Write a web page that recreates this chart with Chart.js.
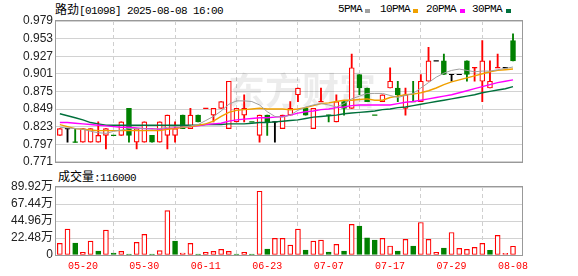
<!DOCTYPE html>
<html>
<head>
<meta charset="utf-8">
<script src="https://cdn.jsdelivr.net/npm/chart.js@4.4.1/dist/chart.umd.min.js"></script>
<style>
body { margin: 0; background: #fff; }
#wrap { position: relative; width: 578px; height: 276px; overflow: hidden; }
canvas { position: absolute; left: 0; }
.t { position: absolute; white-space: nowrap; line-height: 12px; color: #000;
     font-family: "Liberation Mono", "DejaVu Sans Mono", monospace; font-size: 11px; letter-spacing: -0.6px; }
.cjk { font-family: "Noto Sans CJK SC", sans-serif; font-size: 12px; letter-spacing: 0; }
.sq { position: absolute; width: 5px; height: 4px; top: 9px; }
</style>
</head>
<body>
<div id="wrap">
  <div class="t" style="left:55px;top:3px"><span class="cjk">路劲</span>[01098] 2025-08-08 16:00</div>
  <div class="t" style="left:338px;top:3px">5PMA</div><div class="sq" style="left:365px;background:#a0a0a0"></div>
  <div class="t" style="left:380px;top:3px">10PMA</div><div class="sq" style="left:413px;background:#f0a000"></div>
  <div class="t" style="left:426px;top:3px">20PMA</div><div class="sq" style="left:460px;background:#ff00ff"></div>
  <div class="t" style="left:472px;top:3px">30PMA</div><div class="sq" style="left:506px;background:#00703c"></div>
  <div class="t" style="left:58px;top:170px"><span class="cjk">成交量</span>:116000</div>
  <canvas id="price" width="578" height="172" style="top:0"></canvas>
  <canvas id="vol" width="578" height="104" style="top:172px"></canvas>
</div>
<script>
// 路劲 01098 日K, 2025-05-15 .. 2025-08-08
const dates = ['05-15','05-16','05-19','05-20','05-21','05-22','05-23','05-26','05-27','05-28',
  '05-29','05-30','06-02','06-03','06-04','06-05','06-06','06-09','06-10','06-11',
  '06-12','06-13','06-16','06-17','06-18','06-19','06-20','06-23','06-24','06-25',
  '06-26','06-27','06-30','07-02','07-03','07-07','07-08','07-09','07-10','07-11',
  '07-14','07-15','07-16','07-17','07-18','07-21','07-22','07-23','07-24','07-25',
  '07-28','07-29','07-30','07-31','08-01','08-04','08-05','08-06','08-07','08-08'];
const xTickDates = ['05-20','05-30','06-11','06-23','07-07','07-17','07-29','08-08'];

const opens  = [0.81,0.82,0.80,0.80,0.80,0.80,0.81,0.81,0.81,0.85,
  0.80,0.80,0.81,0.80,0.81,0.81,0.84,0.82,0.84,0.85,
  0.84,0.85,0.82,0.83,0.84,0.83,0.81,0.84,0.83,0.82,
  0.84,0.87,0.85,0.82,0.86,0.84,0.83,0.86,0.85,0.90,
  0.88,0.84,0.86,0.88,0.88,0.85,0.86,0.86,0.89,0.92,
  0.92,0.90,0.90,0.92,0.91,0.89,0.88,0.91,0.91,0.95];
const highs  = [0.82,0.82,0.82,0.82,0.82,0.83,0.82,0.81,0.83,0.85,
  0.82,0.83,0.81,0.83,0.84,0.83,0.84,0.85,0.84,0.85,
  0.85,0.86,0.89,0.85,0.87,0.83,0.84,0.84,0.83,0.84,
  0.86,0.88,0.85,0.85,0.88,0.84,0.87,0.86,0.93,0.90,
  0.88,0.84,0.87,0.91,0.89,0.88,0.89,0.90,0.94,0.92,
  0.93,0.90,0.90,0.92,0.91,0.95,0.92,0.93,0.91,0.96];
const lows   = [0.81,0.80,0.80,0.80,0.80,0.80,0.79,0.81,0.81,0.80,
  0.79,0.80,0.80,0.80,0.79,0.80,0.82,0.82,0.83,0.85,
  0.83,0.85,0.82,0.83,0.83,0.83,0.80,0.81,0.80,0.82,
  0.84,0.86,0.84,0.82,0.86,0.83,0.83,0.84,0.85,0.87,
  0.86,0.84,0.86,0.88,0.86,0.84,0.86,0.86,0.89,0.92,
  0.90,0.89,0.90,0.89,0.89,0.86,0.88,0.91,0.91,0.92];
const closes = [0.82,0.82,0.80,0.82,0.82,0.81,0.82,0.81,0.83,0.81,
  0.82,0.83,0.80,0.83,0.84,0.82,0.82,0.84,0.83,0.85,
  0.85,0.86,0.89,0.85,0.85,0.83,0.84,0.83,0.83,0.84,
  0.85,0.88,0.84,0.85,0.86,0.84,0.86,0.85,0.91,0.88,
  0.86,0.84,0.87,0.89,0.87,0.87,0.86,0.89,0.92,0.92,
  0.90,0.90,0.90,0.90,0.91,0.92,0.89,0.91,0.91,0.92];

// 成交量, 万股
const volumes = [15.4,34.2,15.8,3.5,18.4,5.3,32.9,2.6,4.8,1.3,
  16.7,27.2,1.3,5.7,58.8,18.4,2.6,15.4,1.3,3.5,
  4.8,7.5,4.8,1.3,3.5,1.3,84.3,7.9,21.9,21.9,
  13.2,34.2,6.6,18.4,19.8,4.0,14.0,5.3,40.4,38.2,
  22.8,19.8,21.9,11.9,5.3,20.6,11.9,43.0,20.6,3.5,
  9.2,29.8,8.8,7.5,10.1,15.4,6.1,25.9,2.2,11.6];

const ma5  = [0.822,0.821,0.820,0.819,0.816,0.814,0.813,0.816,0.818,0.820,
  0.820,0.820,0.819,0.820,0.822,0.823,0.822,0.824,0.826,0.832,
  0.838,0.846,0.856,0.861,0.861,0.860,0.855,0.845,0.838,0.837,
  0.840,0.847,0.852,0.855,0.857,0.855,0.852,0.857,0.864,0.868,
  0.872,0.872,0.872,0.869,0.866,0.869,0.872,0.880,0.888,0.896,
  0.902,0.906,0.908,0.906,0.904,0.905,0.905,0.907,0.909,0.911];
const ma10 = [0.826,0.823,0.820,0.819,0.818,0.817,0.817,0.817,0.817,0.817,
  0.817,0.817,0.817,0.817,0.819,0.820,0.822,0.823,0.825,0.827,
  0.831,0.838,0.844,0.847,0.848,0.849,0.850,0.849,0.849,0.849,
  0.848,0.849,0.851,0.854,0.857,0.858,0.860,0.862,0.862,0.863,
  0.864,0.862,0.862,0.866,0.868,0.870,0.871,0.873,0.876,0.880,
  0.885,0.889,0.892,0.895,0.898,0.901,0.904,0.906,0.907,0.908];
const ma20 = [0.829,0.829,0.828,0.827,0.826,0.825,0.824,0.823,0.822,0.822,
  0.821,0.820,0.820,0.819,0.820,0.821,0.822,0.823,0.824,0.826,
  0.827,0.828,0.831,0.833,0.834,0.835,0.836,0.836,0.837,0.838,
  0.840,0.843,0.845,0.846,0.848,0.849,0.851,0.852,0.854,0.855,
  0.855,0.855,0.855,0.855,0.857,0.859,0.860,0.862,0.864,0.866,
  0.868,0.870,0.873,0.876,0.879,0.882,0.885,0.888,0.890,0.892];
const ma30 = [0.842,0.839,0.836,0.833,0.829,0.827,0.825,0.825,0.825,0.825,
  0.825,0.825,0.825,0.825,0.825,0.825,0.825,0.825,0.825,0.826,
  0.826,0.826,0.827,0.827,0.827,0.828,0.829,0.829,0.830,0.831,
  0.832,0.833,0.835,0.837,0.838,0.839,0.840,0.842,0.843,0.844,
  0.845,0.846,0.848,0.849,0.851,0.852,0.854,0.856,0.858,0.860,
  0.862,0.864,0.866,0.868,0.870,0.873,0.875,0.877,0.879,0.882];

const priceTicks = [0.771,0.797,0.823,0.849,0.875,0.901,0.927,0.953,0.979];
const volTicks = [0,22.48,44.96,67.44,89.92];

const RED = '#ff0000', GREEN = '#008000', BLACK = '#000000';
const tickIdx = xTickDates.map(d => dates.indexOf(d));

// 红/绿/平: 先看收开, 收=开时看昨收
function trend(i) {
    if (closes[i] > opens[i]) return 1;
    if (closes[i] < opens[i]) return -1;
    const prev = i > 0 ? closes[i - 1] : closes[i];
    return closes[i] > prev ? 1 : (closes[i] < prev ? -1 : 0);
}
function colorOf(t) { return t > 0 ? RED : (t < 0 ? GREEN : BLACK); }

const bodies = [], bodyFill = [], bodyLine = [];
const wicks = [], wickColor = [];
const dashes = [], dashColor = [];
closes.forEach((c, i) => {
    const t = trend(i);
    if (highs[i] > lows[i]) {
        wicks.push({ x: i, y: [lows[i], highs[i]] });
        wickColor.push(colorOf(t));
    }
    if (opens[i] !== c) {
        bodies.push({ x: i, y: [opens[i], c] });
        bodyFill.push(t > 0 ? '#ffffff' : GREEN);
        bodyLine.push(colorOf(t));
    } else {
        dashes.push({ x: i, y: c });
        dashColor.push(colorOf(t));
    }
});

const volUp = volumes.map((v, i) => i === 0 || closes[i] >= closes[i - 1]);

Chart.defaults.font.family = "'Liberation Sans', 'Noto Sans CJK SC', sans-serif";
Chart.defaults.color = '#222';

// 水印 + 外框
const backdrop = {
    id: 'backdrop',
    beforeDatasetsDraw(chart, args, opts) {
        const { ctx, chartArea: a } = chart;
        ctx.save();
        if (opts.mark) {
            ctx.font = "bold 37px 'Noto Sans CJK SC'";
            ctx.fillStyle = 'rgba(0,0,0,0.075)';
            ctx.textBaseline = 'middle';
            ctx.fillText(opts.mark, 228, 91);
        }
        ctx.strokeStyle = '#999';
        ctx.lineWidth = 1;
        ctx.strokeRect(Math.round(a.left) - 0.5, Math.round(a.top) - 0.5,
            Math.round(a.right - a.left) + 1, Math.round(a.bottom - a.top) + 1);
        ctx.restore();
    }
};

function xAxis(showLabels) {
    return {
        type: 'linear', min: -0.5, max: 60.17, offset: false,
        afterBuildTicks: s => { s.ticks = tickIdx.map(v => ({ value: v })); },
        afterFit: s => { s.height = showLabels ? 21 : 0; },
        grid: { color: '#cfcfcf', drawTicks: false },
        border: { display: false, dash: [4, 3] },
        ticks: {
            display: showLabels, autoSkip: false, maxRotation: 0, padding: 5,
            color: RED, font: { family: "'Liberation Mono', monospace", size: 10 },
            callback: v => dates[v]
        }
    };
}

const maLine = (data, color, w) => ({
    type: 'line', order: 0, data: data.map((v, i) => ({ x: i, y: v })),
    borderColor: color, borderWidth: w, pointRadius: 0, tension: 0
});

new Chart(document.getElementById('price'), {
    type: 'bar',
    data: {
        datasets: [
            maLine(ma5, '#a0a0a0', 1),
            maLine(ma10, '#f0a000', 1.4),
            maLine(ma20, '#ff00ff', 1.4),
            maLine(ma30, '#00703c', 1.4),
            {
                type: 'line', order: 1, data: dashes, showLine: false,
                pointStyle: 'line', pointRadius: 2.6, pointBorderWidth: 1.2,
                pointBorderColor: dashColor, pointBackgroundColor: dashColor
            },
            {
                type: 'bar', order: 2, data: bodies, grouped: false, barThickness: 5,
                backgroundColor: bodyFill, borderColor: bodyLine, borderWidth: 1.2, borderSkipped: false
            },
            {
                type: 'bar', order: 3, data: wicks, grouped: false, barThickness: 1.2,
                backgroundColor: wickColor, borderWidth: 0
            }
        ]
    },
    options: {
        responsive: false, animation: false, devicePixelRatio: 1,
        layout: { padding: { left: 0, right: 56, top: 21, bottom: 6 } },
        plugins: { legend: { display: false }, tooltip: { enabled: false }, backdrop: { mark: '东方财富' } },
        scales: {
            x: xAxis(false),
            y: {
                min: 0.771, max: 0.979,
                afterBuildTicks: s => { s.ticks = priceTicks.map(v => ({ value: v })); },
                afterFit: s => { s.width = 56; },
                grid: { color: '#d2d2d2', drawTicks: false },
                border: { display: false },
                ticks: { autoSkip: false, padding: 3, font: { size: 12 }, callback: v => v.toFixed(3) }
            }
        }
    },
    plugins: [backdrop]
});

new Chart(document.getElementById('vol'), {
    type: 'bar',
    data: {
        datasets: [{
            data: volumes.map((v, i) => ({ x: i, y: v })),
            barThickness: 5, borderWidth: 1.2, borderSkipped: false,
            backgroundColor: volUp.map(u => u ? '#ffffff' : GREEN),
            borderColor: volUp.map(u => u ? RED : GREEN)
        }]
    },
    options: {
        responsive: false, animation: false, devicePixelRatio: 1,
        layout: { padding: { left: 0, right: 56, top: 15, bottom: 0 } },
        plugins: { legend: { display: false }, tooltip: { enabled: false }, backdrop: {} },
        scales: {
            x: xAxis(true),
            y: {
                min: 0, max: 89.92,
                afterBuildTicks: s => { s.ticks = volTicks.map(v => ({ value: v })); },
                afterFit: s => { s.width = 56; },
                grid: { color: '#d2d2d2', drawTicks: false },
                border: { display: false },
                ticks: { autoSkip: false, padding: 3, font: { size: 12 },
                    callback: v => v === 0 ? '0' : v.toFixed(2) + '万' }
            }
        }
    },
    plugins: [backdrop]
});
</script>
</body>
</html>
